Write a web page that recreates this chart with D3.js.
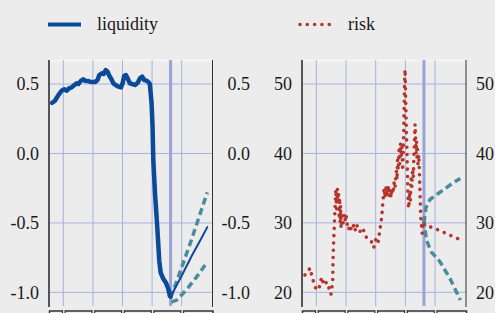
<!DOCTYPE html>
<html>
<head>
<meta charset="utf-8">
<script src="https://cdn.jsdelivr.net/npm/d3@7"></script>
<style>
body { margin: 0; background: #ececec; }
</style>
</head>
<body>
<svg width="495" height="313"></svg>
<script>
const svg = d3.select("svg");
const serif = "'Liberation Serif', 'Times New Roman', serif";

// months since first grid line; forecast starts at t = 43.5
const xTicks = [0, 12, 24, 36, 48];
const forecastStart = 43.5;

const liquidityTicks = [0.5, 0.0, -0.5, -1.0];
const riskTicks = [50, 40, 30, 20];

const liquidityHist = [
  [-4.5,0.365],[-3.4,0.38],[-2.0,0.42],[-0.7,0.452],[0.4,0.462],[1.4,0.452],[2.3,0.469],
  [3.4,0.476],[4.5,0.493],[5.4,0.505],[6.1,0.50],[7.2,0.524],[8.1,0.534],[8.8,0.524],
  [9.9,0.522],[10.8,0.517],[12.2,0.514],[12.9,0.514],[13.9,0.529],[14.6,0.565],[15.6,0.577],
  [16.4,0.572],[17.2,0.60],[18.0,0.589],[18.5,0.565],[19.3,0.541],[20.3,0.505],[21.2,0.493],
  [22.3,0.481],[23.4,0.476],[24.1,0.509],[24.7,0.558],[25.4,0.565],[26.1,0.541],[27.0,0.505],
  [28.0,0.50],[29.1,0.493],[30.2,0.509],[31.1,0.541],[32.0,0.553],[32.8,0.529],[33.8,0.524],
  [34.5,0.514],[35.1,0.50],[35.8,0.36],[36.2,0.19],[36.5,-0.05],[37.2,-0.29],[38.1,-0.53],
  [38.9,-0.77],[39.5,-0.86],[40.5,-0.90],[41.6,-0.93],[42.6,-0.976],[43.2,-1.026],[43.5,-1.031]
];
const liquidityFc = [[43.5,-1.031],[48,-0.88],[52,-0.74],[56,-0.61],[58.4,-0.53]];
const liquidityHi = [[43.5,-1.04],[46,-0.92],[49,-0.77],[52,-0.62],[55,-0.46],[58.4,-0.28]];
const liquidityLo = [[43.8,-1.07],[46,-1.055],[50,-0.98],[54,-0.89],[58.4,-0.78]];

const riskHist = [
  [-4.6,22.5],[-3.4,22.9],[-2.6,23.5],[-1.9,22.5],[-1.0,21.3],[0.1,20.3],[0.9,20.6],[1.5,21.0],
  [2.1,22.2],[3.1,21.0],[4.2,21.5],[5.1,20.6],[5.9,19.7],[6.6,21.5],[6.8,25.4],[7.1,28.2],
  [7.5,31.6],[7.9,34.8],[8.2,32.0],[8.5,35.0],[8.8,33.0],[9.0,34.2],[9.2,31.0],[9.4,33.6],
  [9.6,30.0],[9.8,32.5],[10.0,29.2],[10.3,31.0],[10.8,30.0],[11.2,31.2],[11.6,30.4],[12.0,31.2],
  [12.4,29.9],[13.0,29.0],[13.6,29.7],[14.2,28.9],[15.0,29.6],[15.6,28.8],[16.2,29.8],
  [17.0,29.1],[17.6,28.7],[18.2,29.3],[19.0,29.0],[20.0,28.0],[21.0,27.7],[22.0,27.5],
  [22.6,27.0],[23.2,26.4],[24.0,27.6],[24.6,27.0],[25.0,27.3],[25.6,28.8],[26.2,30.2],
  [26.6,31.6],[27.0,33.5],[27.4,35.0],[27.8,33.6],[28.2,35.2],[28.6,34.0],[29.0,35.4],
  [29.4,33.8],[29.8,34.8],[30.2,33.6],[30.6,35.0],[31.0,34.2],[31.4,35.8],[31.8,35.0],
  [32.1,36.6],[32.4,37.5],[32.6,36.2],[32.8,39.0],[33.1,37.6],[33.4,40.5],[33.7,38.5],
  [34.0,41.5],[34.3,39.5],[34.6,41.0],[34.9,37.5],[35.1,40.0],[35.3,43.0],[35.5,47.0],
  [35.7,50.5],[35.85,52.1],[36.0,50.0],[36.2,46.5],[36.4,43.0],[36.6,40.5],[36.8,37.5],
  [37.0,34.5],[37.2,32.4],[37.4,32.1],[37.7,34.5],[38.0,33.2],[38.3,36.4],[38.6,35.2],
  [38.9,37.8],[39.2,36.5],[39.5,40.5],[39.7,42.0],[39.9,44.2],[40.1,42.5],[40.3,40.0],
  [40.5,41.8],[40.7,39.5],[40.9,40.6],[41.1,38.5],[41.4,39.8],[41.7,37.0],[41.9,34.5],
  [42.1,32.0],[42.3,30.5],[42.6,29.2],[42.8,28.5],[43.1,29.9],[43.5,29.8]
];
const riskFc = [[43.5,29.8],[47,29.3],[50,28.9],[53,28.4],[56,27.9],[58.2,27.6]];
const riskHi = [[43.5,30.0],[44.3,32.2],[46,33.4],[51.5,34.8],[55,35.7],[58.2,36.4]];
const riskLo = [[43.5,30.5],[44.5,27.5],[46.5,25.8],[50,24.4],[54,22.0],[58.2,18.9]];

const gridColor = "#aab1dc";
const plotTop = 60, plotBottom = 306;

function panel(x0, x1, yDomain, ticks, fmt, hist, fc, hi, lo, histStyle, rightLabelX) {
  const x = d3.scaleLinear().domain([-5.8, 60.5]).range([x0, x1]);
  const y = d3.scaleLinear().domain(yDomain).range([plotBottom, plotTop]);
  const g = svg.append("g");

  g.append("line").attr("x1", x0).attr("x2", x1).attr("y1", plotTop + 0.5).attr("y2", plotTop + 0.5)
    .attr("stroke", "#f6f6fa").attr("stroke-width", 1.5);

  g.selectAll(".hgrid").data(ticks).enter().append("line")
    .attr("x1", x0).attr("x2", x1)
    .attr("y1", d => y(d)).attr("y2", d => y(d))
    .attr("stroke", gridColor).attr("stroke-width", 1);

  g.selectAll(".vgrid").data(xTicks).enter().append("line")
    .attr("x1", d => x(d)).attr("x2", d => x(d))
    .attr("y1", plotTop).attr("y2", plotBottom)
    .attr("stroke", gridColor).attr("stroke-width", 1);

  g.append("line")
    .attr("x1", x(forecastStart)).attr("x2", x(forecastStart))
    .attr("y1", plotTop).attr("y2", plotBottom)
    .attr("stroke", "#9aa4d8").attr("stroke-width", 3);

  const line = d3.line().x(d => x(d[0])).y(d => y(d[1]));

  g.append("path").datum(hi).attr("d", line)
    .attr("fill", "none").attr("stroke", "#4a8c9b").attr("stroke-width", 3.5)
    .attr("stroke-dasharray", "7,4");
  g.append("path").datum(lo).attr("d", line)
    .attr("fill", "none").attr("stroke", "#4a8c9b").attr("stroke-width", 3.5)
    .attr("stroke-dasharray", "7,4");

  const h = g.append("path").datum(hist).attr("d", line).attr("fill", "none");
  histStyle(h, false);
  const f = g.append("path").datum(fc).attr("d", line).attr("fill", "none");
  histStyle(f, true);

  // axis frame
  g.append("line").attr("x1", x0).attr("x2", x0).attr("y1", plotTop).attr("y2", plotBottom + 1)
    .attr("stroke", "#555").attr("stroke-width", 2);
  g.append("line").attr("x1", x1).attr("x2", x1).attr("y1", plotTop).attr("y2", plotBottom + 1)
    .attr("stroke", "#333").attr("stroke-width", 1);

  // bottom axis (labels fall outside the picture)
  const ax = g.append("g").attr("transform", `translate(0,${plotBottom + 4.5})`)
    .call(d3.axisBottom(x).tickValues(xTicks).tickSize(6).tickFormat(""));
  ax.select(".domain").attr("stroke", "#333").attr("stroke-width", 1.5);
  ax.selectAll(".tick line").attr("stroke", "#333").attr("stroke-width", 4);
  ax.selectAll(".tick").append("line").attr("y1", -1).attr("y2", 7)
    .attr("stroke", "#ececec").attr("stroke-width", 1.5);

  g.selectAll(".lab").data(ticks).enter().append("text")
    .attr("x", x0 - 10).attr("y", d => y(d)).attr("dy", "0.35em")
    .attr("text-anchor", "end").attr("font-family", serif).attr("font-size", 18)
    .attr("fill", "#1a1a1a").text(fmt);
  g.selectAll(".rlab").data(ticks).enter().append("text")
    .attr("x", rightLabelX).attr("y", d => y(d)).attr("dy", "0.35em")
    .attr("text-anchor", "end").attr("font-family", serif).attr("font-size", 18)
    .attr("fill", "#1a1a1a").text(fmt);
}

panel(49, 212.5, [-1.098, 0.673], liquidityTicks, d => d3.format(".1f")(d).replace("−", "-"),
  liquidityHist, liquidityFc, liquidityHi, liquidityLo,
  (p, isFc) => p.attr("stroke", "#0b4a98").attr("stroke-width", isFc ? 2 : 4.5)
    .attr("stroke-linejoin", "round").attr("stroke-linecap", "round"),
  250);

panel(302, 466, [18.03, 53.46], riskTicks, d => d,
  riskHist, riskFc, riskHi, riskLo,
  (p) => p.attr("stroke", "#b5342b").attr("stroke-width", 3.6)
    .attr("stroke-linecap", "round").attr("stroke-dasharray", "0.01,7.3"),
  494);

// legend
const legend = svg.append("g");
legend.append("line").attr("x1", 48).attr("x2", 81).attr("y1", 24.5).attr("y2", 24.5)
  .attr("stroke", "#0b4a98").attr("stroke-width", 4.2);
legend.append("text").attr("x", 97).attr("y", 30).attr("font-family", serif)
  .attr("font-size", 18).attr("fill", "#1a1a1a").text("liquidity");
legend.append("line").attr("x1", 300).attr("x2", 334).attr("y1", 24.5).attr("y2", 24.5)
  .attr("stroke", "#b5342b").attr("stroke-width", 3.6)
  .attr("stroke-linecap", "round").attr("stroke-dasharray", "0.01,7.3");
legend.append("text").attr("x", 348).attr("y", 30).attr("font-family", serif)
  .attr("font-size", 18).attr("fill", "#1a1a1a").text("risk");
</script>
</body>
</html>
